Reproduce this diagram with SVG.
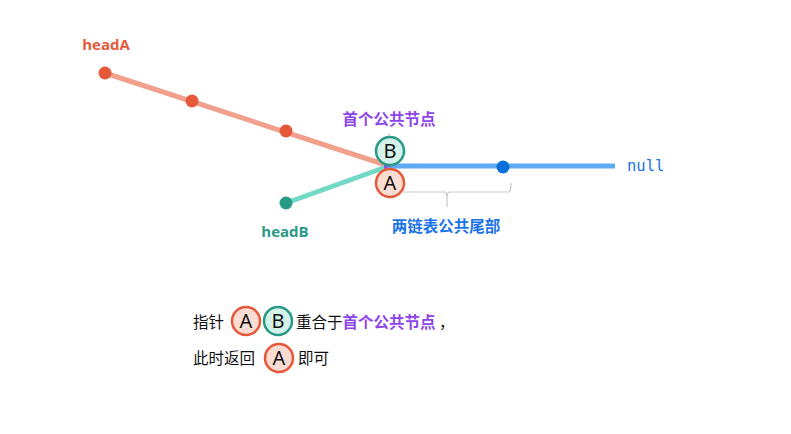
<svg xmlns="http://www.w3.org/2000/svg" width="791" height="434" viewBox="0 0 791 434">
<style>
.cjk{font-family:"Noto Sans CJK SC","Noto Sans",sans-serif;}
.blk{font-size:15.5px;fill:#111;}
.lbl{font-family:"Open Sans","Noto Sans",sans-serif;font-weight:bold;font-size:15px;}
.circA{fill:#FADCD3;stroke:#E5593A;stroke-width:2.5;}
.circB{fill:#D3F2EA;stroke:#2A9A88;stroke-width:2.5;}
.let{font-family:"Noto Sans","Open Sans",sans-serif;font-size:20px;fill:#111;text-anchor:middle;}
.brace{fill:none;stroke:#C8C8C8;stroke-width:1.2;}
</style>
<rect width="791" height="434" fill="#fff"/>
<g id="connectors">
  <line x1="105" y1="73" x2="389" y2="166" stroke="#F0A08C" stroke-width="5" stroke-linecap="round"/>
  <line x1="286" y1="203" x2="389" y2="166" stroke="#72D9C7" stroke-width="5" stroke-linecap="round"/>
  <line x1="389" y1="166" x2="615" y2="166" stroke="#5DAAF3" stroke-width="5"/>
  <path d="M384,163 L392,166 L384,169 Z" fill="#8E52E6"/>
</g>
<g id="brace">
  <path class="brace" d="M403,192 L445,192 Q447,193 447,198 L447,207 M447,198 Q447,193 449,192 L509,192 Q511,191 511,183"/>
  <line class="brace" x1="389" y1="133" x2="389" y2="137"/>
</g>
<g id="headA">
  <text class="lbl" x="106" y="50" fill="#E5593A" text-anchor="middle">headA</text>
  <circle cx="105" cy="73" r="6.5" fill="#E5593A"/>
</g>
<g id="nodeA2"><circle cx="192" cy="101" r="6.5" fill="#E5593A"/></g>
<g id="nodeA3"><circle cx="286" cy="131" r="6.5" fill="#E5593A"/></g>
<g id="headB">
  <circle cx="286" cy="203" r="6.5" fill="#2A9A88"/>
  <text class="lbl" x="285" y="237" fill="#2A9A88" text-anchor="middle">headB</text>
</g>
<g id="nodeTail"><circle cx="503" cy="167" r="6.5" fill="#0A6FD9"/></g>
<g id="nullLabel">
  <text x="627" y="171" font-family="'DejaVu Sans Mono','Liberation Mono',monospace" font-size="15.5" fill="#1A73E8">null</text>
</g>
<g id="firstCommon">
  <text class="cjk" x="389" y="125" font-size="15.5" font-weight="bold" fill="#8E44E8" text-anchor="middle">首个公共节点</text>
</g>
<g id="pointerB">
  <circle class="circB" cx="390" cy="151" r="14"/>
  <text class="let" x="390" y="158">B</text>
</g>
<g id="pointerA">
  <circle class="circA" cx="390" cy="183" r="14"/>
  <text class="let" x="390" y="190">A</text>
</g>
<g id="tailLabel">
  <text class="cjk" x="446" y="232" font-size="15.5" font-weight="bold" fill="#1A73E8" text-anchor="middle">两链表公共尾部</text>
</g>
<g id="caption1">
  <text class="cjk blk" x="193" y="328">指针</text>
  <circle class="circA" cx="246" cy="321" r="14"/>
  <text class="let" x="246" y="328">A</text>
  <circle class="circB" cx="278" cy="321" r="14"/>
  <text class="let" x="278" y="328">B</text>
  <text class="cjk blk" x="296" y="328">重合于<tspan font-weight="bold" fill="#8E44E8">首个公共节点</tspan> ，</text>
</g>
<g id="caption2">
  <text class="cjk blk" x="193" y="364">此时返回</text>
  <circle class="circA" cx="279" cy="358" r="14"/>
  <text class="let" x="279" y="365">A</text>
  <text class="cjk blk" x="298" y="364">即可</text>
</g>
</svg>
